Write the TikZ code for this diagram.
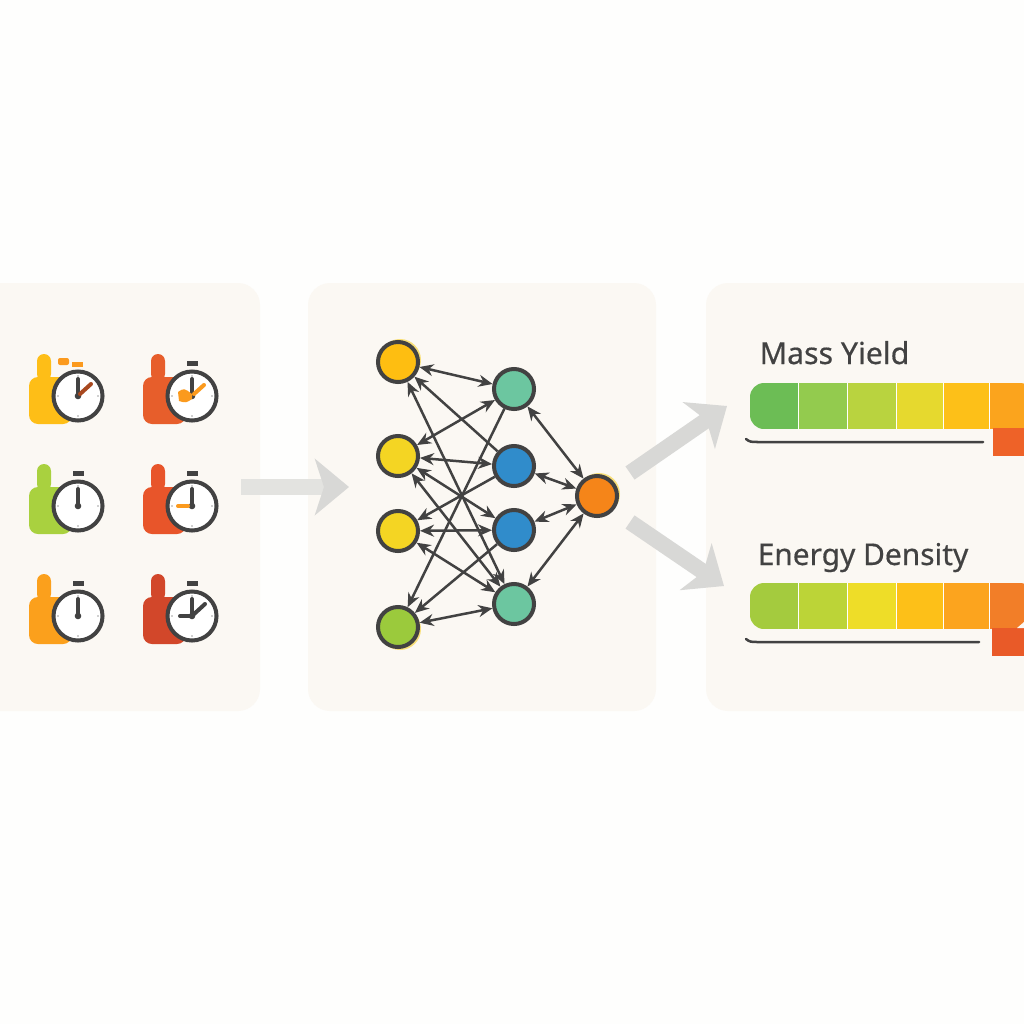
\documentclass[tikz,border=0pt]{standalone}
\usepackage{xcolor}
\usepackage{fontspec}
\setmainfont{Noto Sans}
\usetikzlibrary{arrows.meta}

\definecolor{pagebg}{HTML}{FEFEFD}
\definecolor{panelbg}{HTML}{FBF8F3}
\definecolor{inkdark}{HTML}{424242}
\definecolor{biggrey}{HTML}{D8D8D6}
\definecolor{paleshaft}{HTML}{E3E3E0}
\definecolor{fringe}{HTML}{F9E07A}
\definecolor{splash}{HTML}{FB9A1E}
\definecolor{rustyhand}{HTML}{A8481F}
\definecolor{flagone}{HTML}{EE6228}
\definecolor{flagtwo}{HTML}{E95A28}
\definecolor{bottleamber}{HTML}{FEBE17}
\definecolor{bottlecoral}{HTML}{E75E2B}
\definecolor{bottlelime}{HTML}{A9D13F}
\definecolor{bottlered}{HTML}{E8552A}
\definecolor{bottleorange}{HTML}{FBA01C}
\definecolor{bottlebrick}{HTML}{D2472A}
\definecolor{unitamber}{HTML}{FEBE11}
\definecolor{unityellow}{HTML}{F4D523}
\definecolor{unitgreen}{HTML}{9BCA3C}
\definecolor{unitteal}{HTML}{6CC6A0}
\definecolor{unitblue}{HTML}{308CCB}
\definecolor{unitorange}{HTML}{F58519}

\tikzset{
  panel/.style={fill=panelbg, rounded corners=2.2mm},
  unit/.style={circle, draw=inkdark, line width=0.4mm, minimum size=4mm, inner sep=0pt},
  link/.style={draw=inkdark, line width=0.25mm, {Stealth[length=1.4mm,width=1.2mm]}-{Stealth[length=1.4mm,width=1.2mm]}},
  linkback/.style={draw=inkdark, line width=0.25mm, {Stealth[length=1.4mm,width=1.2mm]}-},
  bigarrow/.style={draw=biggrey, line width=1.6mm, -{Stealth[length=3.4mm,width=5.6mm,inset=0.9mm]}},
  barlabel/.style={anchor=base west, inner sep=0pt, text=inkdark, font=\fontsize{8.6}{10}\selectfont\addfontfeature{FakeBold=0.5}},
  watchhand/.style={draw=#1, line width=0.4mm, line cap=round},
  watchhand/.default=inkdark
}

% bottle and clock face: x, y, colour
\newcommand{\stopwatch}[3]{
  \begin{scope}[shift={(#1,#2)}]
    \fill[#3, rounded corners=0.7mm] (-41,-42) rectangle (-27,-15);
    \fill[#3, rounded corners=0.9mm] (-49,-19) rectangle (-6,28);
    \filldraw[fill=white, draw=inkdark, line width=0.4mm] (0,0) circle (2.45mm);
    \fill[inkdark!50] (20,0) circle (0.08mm) (-20,0) circle (0.08mm) (0,-20) circle (0.08mm) (0,20) circle (0.08mm);
    \draw[watchhand] (0,0) -- (0,-17);
    \fill[inkdark] (0,0) circle (0.33mm);
  \end{scope}
}
\newcommand{\watchknob}[2]{
  \fill[inkdark] (#1-5.5,#2-35) rectangle (#1+5.5,#2-30);
}

\begin{document}
\begin{tikzpicture}[x=0.01cm,y=-0.01cm]
  \clip (0,0) rectangle (1024,1024);
  \fill[pagebg] (0,0) rectangle (1024,1024);

  % panels
  \fill[panel] (-40,283) rectangle (260,711);
  \fill[panel] (308,283) rectangle (656,711);
  \fill[panel] (706,283) rectangle (1060,711);

  % left panel
  \stopwatch{78}{396}{bottleamber}
  \stopwatch{192}{396}{bottlecoral}
  \stopwatch{78}{506}{bottlelime}
  \stopwatch{192}{506}{bottlered}
  \stopwatch{78}{616}{bottleorange}
  \stopwatch{192}{616}{bottlebrick}
  \watchknob{192}{396}
  \watchknob{78}{506}
  \watchknob{192}{506}
  \watchknob{78}{616}
  \watchknob{192}{616}

  \fill[splash, rounded corners=0.2mm] (58,358) rectangle (69,365);
  \fill[splash] (72,362) rectangle (83,367);
  \draw[watchhand=rustyhand] (80,394) -- (91,384);
  \draw[watchhand=splash] (194,394) -- (204,385);
  \fill[splash] (178,392) .. controls (184,388) .. (192,394) -- (192,399) .. controls (186,403) .. (179,401) -- cycle;
  \draw[watchhand=splash] (178,506) -- (188,506);
  \draw[watchhand] (180,616) -- (192,616);
  \draw[watchhand] (193,615) -- (205,604);

  % arrows between panels
  \coordinate (in1) at (241,487);
  \coordinate (in2) at (349,487);
  \coordinate (up1) at (630,473);
  \coordinate (up2) at (727,406);
  \coordinate (dn1) at (630,522);
  \coordinate (dn2) at (724,586);
  \draw[bigarrow, draw=paleshaft, -{Stealth[length=3.4mm,width=5.6mm,inset=0.9mm,color=biggrey]}] (in1) -- (in2);
  \draw[bigarrow] (up1) -- (up2);
  \draw[bigarrow] (dn1) -- (dn2);

  % network
  \fill[fringe] (400,360) circle (2.1mm);
  \fill[fringe] (400,629) circle (2.1mm);
  \fill[fringe] (599,494) circle (2.1mm);

  \node[unit, fill=unitamber] (in1n) at (398,362) {};
  \node[unit, fill=unityellow] (in2n) at (398,456) {};
  \node[unit, fill=unityellow] (in3n) at (398,531) {};
  \node[unit, fill=unitgreen] (in4n) at (398,627) {};

  \node[unit, fill=unitteal] (mid1) at (514,389) {};
  \node[unit, fill=unitblue] (mid2) at (514,466) {};
  \node[unit, fill=unitblue] (mid3) at (514,530) {};
  \node[unit, fill=unitteal] (mid4) at (514,604) {};

  \node[unit, fill=unitorange] (out) at (597,496) {};

  \foreach \a/\b in {in1n/mid1, in1n/mid4,
                     in2n/mid1, in2n/mid2, in2n/mid3, in2n/mid4,
                     in3n/mid3, in3n/mid4, in4n/mid4,
                     mid1/out, mid2/out, mid3/out, mid4/out}
    \draw[link] (\a) -- (\b);
  \foreach \a/\b in {in1n/mid2, in3n/mid2, in4n/mid1, in4n/mid3}
    \draw[linkback] (\a) -- (\b);

  % right panel
  \node[barlabel] (yieldlabel) at (759,364) {Mass Yield};
  \node[barlabel, font=\fontsize{8.5}{10}\selectfont\addfontfeature{FakeBold=0.5}] (densitylabel) at (757,565) {Energy Density};

  \begin{scope}
    \clip[rounded corners=1.4mm] (750,383) rectangle (1034,429);
    \foreach \xa/\xb/\col in {750/799/6CBD55, 799/848/93CB4E, 848/897/B9D33F, 897/944/E6D92E, 944/990/FDC018, 990/1034/FBA41D}{
      \definecolor{segcol}{HTML}{\col}
      \fill[segcol] (\xa,383) rectangle (\xb,429);
      \draw[white, line width=0.14mm] (\xb,383) -- (\xb,429);
    }
  \end{scope}
  \fill[flagone] (993,428) rectangle (1024,456);
  \draw[inkdark, line width=0.25mm, line cap=round] (746,439) .. controls (750,442) .. (760,442) -- (983,442);

  \begin{scope}
    \clip[rounded corners=1.4mm] (750,583) rectangle (1034,629);
    \foreach \xa/\xb/\col in {750/799/A4CB3E, 799/848/BCD437, 848/897/EEDD28, 897/944/FDC018, 944/990/FCA41E, 990/1034/F27E28}{
      \definecolor{segcol}{HTML}{\col}
      \fill[segcol] (\xa,583) rectangle (\xb,629);
      \draw[white, line width=0.14mm] (\xb,583) -- (\xb,629);
    }
  \end{scope}
  \fill[flagtwo] (992,628) rectangle (1024,656);
  \fill[panelbg] (1024,622) -- (1024,628) -- (1017,628) -- cycle;
  \draw[inkdark, line width=0.25mm, line cap=round] (746,639) .. controls (750,642) .. (760,642) -- (979,642);
\end{tikzpicture}
\end{document}
